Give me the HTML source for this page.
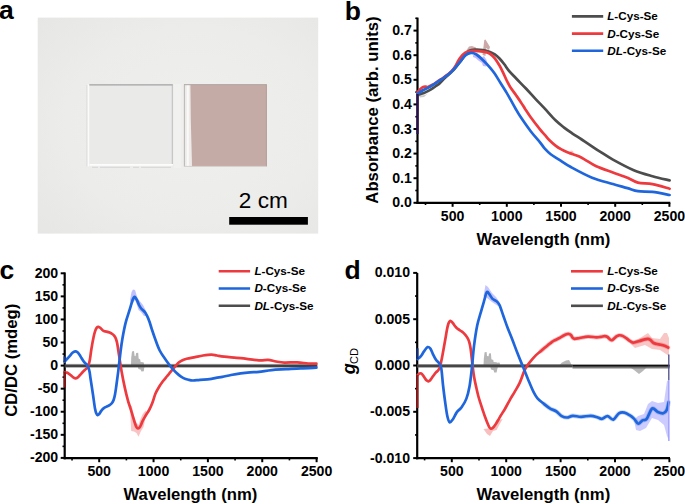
<!DOCTYPE html>
<html><head><meta charset="utf-8"><title>Figure</title>
<style>
html,body{margin:0;padding:0;background:#fff;}
body{width:685px;height:504px;overflow:hidden;}
svg{display:block;font-family:"Liberation Sans",sans-serif;}
.lbl{font-size:26.5px;font-weight:bold;}
.tk{font-size:15.1px;font-weight:bold;}
.ttl{font-size:16.7px;font-weight:bold;}
.lg{font-size:11.7px;font-weight:bold;}
</style></head>
<body>
<svg width="685" height="504" viewBox="0 0 685 504">
<rect width="685" height="504" fill="#fff"/>
<text x="-1" y="19.3" class="lbl">a</text>
<defs><radialGradient id="pg" cx="0.55" cy="0.5" r="0.75"><stop offset="0" stop-color="#efefee"/><stop offset="0.6" stop-color="#ececeb"/><stop offset="1" stop-color="#e6e6e5"/></radialGradient></defs>
<rect x="37.7" y="17.6" width="280.5" height="216" fill="url(#pg)"/>
<rect x="89.2" y="85.2" width="83.2" height="79.8" fill="#eaeae9"/>
<line x1="89.2" y1="84.9" x2="172.8" y2="84.9" stroke="#a2a2a2" stroke-width="1.1"/>
<line x1="88.3" y1="84.5" x2="88.3" y2="166.5" stroke="#fbfbfb" stroke-width="1.8"/>
<line x1="86.9" y1="85" x2="86.9" y2="166.5" stroke="#d8d8d8" stroke-width="0.8"/>
<line x1="172.3" y1="85" x2="172.3" y2="165.5" stroke="#b8b8b8" stroke-width="0.9"/>
<rect x="174" y="84" width="7" height="84" fill="#f1f1f0"/>
<line x1="89.5" y1="164.9" x2="173" y2="164.9" stroke="#fcfcfc" stroke-width="1.6"/>
<line x1="92" y1="167.3" x2="173" y2="167.3" stroke="#d2d2d0" stroke-width="0.9" stroke-dasharray="6,2,30,3"/>
<rect x="183.8" y="84.3" width="83" height="82.4" fill="#edebea"/>
<line x1="187.8" y1="85" x2="187.8" y2="166" stroke="#f9f9f8" stroke-width="2"/>
<path d="M190.4,84.6 L266.6,84.6 L266.6,166.2 L192,166.2 L191.6,150 L190.8,120 Z" fill="#c5aba6"/>
<line x1="184" y1="84.7" x2="266.6" y2="84.7" stroke="#aea3a1" stroke-width="1"/>
<line x1="184.4" y1="84.5" x2="184.4" y2="166.5" stroke="#b4b0af" stroke-width="0.9"/>
<line x1="266.4" y1="84.5" x2="266.4" y2="166.5" stroke="#b09a96" stroke-width="0.9"/>
<line x1="184" y1="166.4" x2="266.6" y2="166.4" stroke="#d6cfcd" stroke-width="1"/>
<rect x="229.2" y="217" width="78.7" height="7.7" fill="#000"/>
<text x="238.8" y="208" font-size="22.6" fill="#000">2 cm</text>
<text x="344.8" y="19.7" class="lbl">b</text>
<line x1="417.50" y1="17.60" x2="417.50" y2="203.90" stroke="#000" stroke-width="2.2"/>
<line x1="416.40" y1="202.80" x2="670.30" y2="202.80" stroke="#000" stroke-width="2.2"/>
<line x1="413.50" y1="202.80" x2="417.50" y2="202.80" stroke="#000" stroke-width="2"/>
<line x1="413.50" y1="178.20" x2="417.50" y2="178.20" stroke="#000" stroke-width="2"/>
<line x1="413.50" y1="153.60" x2="417.50" y2="153.60" stroke="#000" stroke-width="2"/>
<line x1="413.50" y1="129.00" x2="417.50" y2="129.00" stroke="#000" stroke-width="2"/>
<line x1="413.50" y1="104.40" x2="417.50" y2="104.40" stroke="#000" stroke-width="2"/>
<line x1="413.50" y1="79.80" x2="417.50" y2="79.80" stroke="#000" stroke-width="2"/>
<line x1="413.50" y1="55.20" x2="417.50" y2="55.20" stroke="#000" stroke-width="2"/>
<line x1="413.50" y1="30.60" x2="417.50" y2="30.60" stroke="#000" stroke-width="2"/>
<line x1="415.30" y1="190.50" x2="417.50" y2="190.50" stroke="#000" stroke-width="1.6"/>
<line x1="415.30" y1="165.90" x2="417.50" y2="165.90" stroke="#000" stroke-width="1.6"/>
<line x1="415.30" y1="141.30" x2="417.50" y2="141.30" stroke="#000" stroke-width="1.6"/>
<line x1="415.30" y1="116.70" x2="417.50" y2="116.70" stroke="#000" stroke-width="1.6"/>
<line x1="415.30" y1="92.10" x2="417.50" y2="92.10" stroke="#000" stroke-width="1.6"/>
<line x1="415.30" y1="67.50" x2="417.50" y2="67.50" stroke="#000" stroke-width="1.6"/>
<line x1="415.30" y1="42.90" x2="417.50" y2="42.90" stroke="#000" stroke-width="1.6"/>
<line x1="415.30" y1="18.30" x2="417.50" y2="18.30" stroke="#000" stroke-width="1.6"/>
<line x1="452.60" y1="202.80" x2="452.60" y2="206.80" stroke="#000" stroke-width="2"/>
<line x1="506.80" y1="202.80" x2="506.80" y2="206.80" stroke="#000" stroke-width="2"/>
<line x1="561.00" y1="202.80" x2="561.00" y2="206.80" stroke="#000" stroke-width="2"/>
<line x1="615.20" y1="202.80" x2="615.20" y2="206.80" stroke="#000" stroke-width="2"/>
<line x1="669.40" y1="202.80" x2="669.40" y2="206.80" stroke="#000" stroke-width="2"/>
<line x1="425.50" y1="202.80" x2="425.50" y2="205.00" stroke="#000" stroke-width="1.6"/>
<line x1="479.70" y1="202.80" x2="479.70" y2="205.00" stroke="#000" stroke-width="1.6"/>
<line x1="533.90" y1="202.80" x2="533.90" y2="205.00" stroke="#000" stroke-width="1.6"/>
<line x1="588.10" y1="202.80" x2="588.10" y2="205.00" stroke="#000" stroke-width="1.6"/>
<line x1="642.30" y1="202.80" x2="642.30" y2="205.00" stroke="#000" stroke-width="1.6"/>
<text transform="translate(411.80,207.30) scale(0.935,1)" class="tk" text-anchor="end">0.0</text>
<text transform="translate(411.80,182.70) scale(0.935,1)" class="tk" text-anchor="end">0.1</text>
<text transform="translate(411.80,158.10) scale(0.935,1)" class="tk" text-anchor="end">0.2</text>
<text transform="translate(411.80,133.50) scale(0.935,1)" class="tk" text-anchor="end">0.3</text>
<text transform="translate(411.80,108.90) scale(0.935,1)" class="tk" text-anchor="end">0.4</text>
<text transform="translate(411.80,84.30) scale(0.935,1)" class="tk" text-anchor="end">0.5</text>
<text transform="translate(411.80,59.70) scale(0.935,1)" class="tk" text-anchor="end">0.6</text>
<text transform="translate(411.80,35.10) scale(0.935,1)" class="tk" text-anchor="end">0.7</text>
<text transform="translate(452.60,220.50) scale(0.935,1)" class="tk" text-anchor="middle">500</text>
<text transform="translate(506.80,220.50) scale(0.935,1)" class="tk" text-anchor="middle">1000</text>
<text transform="translate(561.00,220.50) scale(0.935,1)" class="tk" text-anchor="middle">1500</text>
<text transform="translate(615.20,220.50) scale(0.935,1)" class="tk" text-anchor="middle">2000</text>
<text transform="translate(669.40,220.50) scale(0.935,1)" class="tk" text-anchor="middle">2500</text>
<text x="543.5" y="244.6" class="ttl" text-anchor="middle">Wavelength (nm)</text>
<text transform="translate(378.2,110) rotate(-90)" class="ttl" text-anchor="middle">Absorbance (arb. units)</text>
<path d="M466.00,51.00 L469.00,46.50 L472.00,46.00 L476.00,47.50 L476.00,50.00 L470.00,51.00 Z" fill="#a86a6a" fill-opacity="0.55" stroke="none"/>
<path d="M482.50,55.00 L484.30,40.00 L485.50,39.50 L490.00,47.00 L489.00,50.00 L486.00,48.00 L485.50,56.00 Z" fill="#a87070" fill-opacity="0.6" stroke="none"/>
<path d="M473.00,55.00 L477.00,55.50 L481.00,58.00 L484.00,56.00 L486.50,60.00 L487.50,64.00 L486.00,66.50 L483.00,66.00 L482.00,63.00 L479.00,61.00 L475.50,58.00 L473.00,57.00 Z" fill="#9a8cff" fill-opacity="0.6" stroke="none"/>
<path d="M418.00,94.50 L421.00,95.50 L425.00,95.00 L428.00,93.50 L424.00,97.00 L420.00,97.50 Z" fill="#9a9a9a" fill-opacity="0.5" stroke="none"/>
<ellipse cx="571.5" cy="152.2" rx="2" ry="1.6" fill="#f07070" fill-opacity="0.4"/>
<path d="M417.40,94.80 C417.83,94.70 418.90,94.52 420.00,94.20 C421.10,93.88 422.68,93.42 424.00,92.90 C425.32,92.38 426.40,91.88 427.90,91.10 C429.40,90.32 431.65,89.05 433.00,88.20 C434.35,87.35 434.87,86.82 436.00,86.00 C437.13,85.18 438.55,84.40 439.80,83.30 C441.05,82.20 442.15,80.73 443.50,79.40 C444.85,78.07 446.57,76.53 447.90,75.30 C449.23,74.07 450.32,73.15 451.50,72.00 C452.68,70.85 453.62,70.02 455.00,68.40 C456.38,66.78 458.08,64.57 459.80,62.30 C461.52,60.03 463.72,56.72 465.30,54.80 C466.88,52.88 467.72,51.65 469.30,50.80 C470.88,49.95 472.55,49.82 474.80,49.70 C477.05,49.58 480.27,49.73 482.80,50.10 C485.33,50.47 488.00,51.18 490.00,51.90 C492.00,52.62 493.22,53.30 494.80,54.40 C496.38,55.50 497.92,56.85 499.50,58.50 C501.08,60.15 502.72,62.25 504.30,64.30 C505.88,66.35 507.02,68.43 509.00,70.80 C510.98,73.17 513.42,75.58 516.20,78.50 C518.98,81.42 522.53,84.95 525.70,88.30 C528.87,91.65 532.02,95.20 535.20,98.60 C538.38,102.00 541.42,105.08 544.80,108.70 C548.18,112.32 552.33,117.18 555.50,120.30 C558.67,123.42 561.03,125.23 563.80,127.40 C566.57,129.57 569.12,131.28 572.10,133.30 C575.08,135.32 578.52,137.42 581.70,139.50 C584.88,141.58 588.15,143.78 591.20,145.80 C594.25,147.82 596.38,149.30 600.00,151.60 C603.62,153.90 607.27,156.50 612.90,159.60 C618.52,162.70 627.15,167.42 633.75,170.20 C640.35,172.97 646.52,174.55 652.50,176.25 C658.48,177.95 666.75,179.71 669.60,180.40" fill="none" stroke="#4d4d4d" stroke-width="2.7" stroke-linejoin="round" stroke-linecap="round" />
<path d="M417.40,92.30 C417.75,91.92 418.82,90.72 419.50,90.00 C420.18,89.28 420.77,88.55 421.50,88.00 C422.23,87.45 423.15,86.93 423.90,86.70 C424.65,86.47 425.33,86.55 426.00,86.60 C426.67,86.65 426.73,87.35 427.90,87.00 C429.07,86.65 431.65,85.25 433.00,84.50 C434.35,83.75 434.87,83.25 436.00,82.50 C437.13,81.75 438.55,80.82 439.80,80.00 C441.05,79.18 442.15,78.53 443.50,77.60 C444.85,76.67 446.57,75.47 447.90,74.40 C449.23,73.33 450.32,72.47 451.50,71.20 C452.68,69.93 453.62,68.97 455.00,66.80 C456.38,64.63 458.08,60.57 459.80,58.20 C461.52,55.83 463.45,53.80 465.30,52.60 C467.15,51.40 468.65,51.23 470.90,51.00 C473.15,50.77 476.17,50.97 478.80,51.20 C481.43,51.43 484.83,51.95 486.70,52.40 C488.57,52.85 488.65,52.92 490.00,53.90 C491.35,54.88 493.22,56.37 494.80,58.30 C496.38,60.23 498.12,63.12 499.50,65.50 C500.88,67.88 501.90,70.10 503.10,72.60 C504.30,75.10 505.52,78.12 506.70,80.50 C507.88,82.88 508.62,84.42 510.20,86.90 C511.78,89.38 514.40,92.82 516.20,95.40 C518.00,97.98 519.52,100.15 521.00,102.40 C522.48,104.65 523.48,106.42 525.10,108.90 C526.72,111.38 528.22,113.88 530.70,117.30 C533.18,120.72 537.65,126.48 540.00,129.40 C542.35,132.32 543.22,132.98 544.80,134.80 C546.38,136.62 547.72,138.50 549.50,140.30 C551.28,142.10 553.52,144.08 555.50,145.60 C557.48,147.12 559.42,148.28 561.40,149.40 C563.38,150.52 565.62,151.53 567.40,152.30 C569.18,153.07 570.12,153.28 572.10,154.00 C574.08,154.72 577.12,155.63 579.30,156.60 C581.48,157.57 582.38,158.18 585.20,159.80 C588.03,161.42 591.63,164.18 596.25,166.30 C600.87,168.42 607.69,170.60 612.90,172.50 C618.11,174.40 623.33,176.02 627.50,177.70 C631.67,179.38 633.73,181.52 637.90,182.60 C642.07,183.68 647.22,183.17 652.50,184.20 C657.78,185.22 666.75,187.99 669.60,188.75" fill="none" stroke="#ec3a3f" stroke-width="2.7" stroke-linejoin="round" stroke-linecap="round" />
<path d="M417.40,94.00 C417.57,93.87 417.48,93.83 418.40,93.20 C419.32,92.57 421.32,91.08 422.90,90.20 C424.48,89.32 426.22,88.78 427.90,87.90 C429.58,87.02 431.65,85.73 433.00,84.90 C434.35,84.07 434.87,83.65 436.00,82.90 C437.13,82.15 438.55,81.22 439.80,80.40 C441.05,79.58 442.15,78.93 443.50,78.00 C444.85,77.07 446.57,75.87 447.90,74.80 C449.23,73.73 450.32,72.77 451.50,71.60 C452.68,70.43 453.62,69.37 455.00,67.80 C456.38,66.23 458.08,64.27 459.80,62.20 C461.52,60.13 463.45,56.95 465.30,55.40 C467.15,53.85 469.05,53.05 470.90,52.90 C472.75,52.75 474.42,53.32 476.40,54.50 C478.38,55.68 480.53,57.82 482.80,60.00 C485.07,62.18 488.00,65.30 490.00,67.60 C492.00,69.90 493.02,71.18 494.80,73.80 C496.58,76.42 498.72,80.12 500.70,83.30 C502.68,86.48 504.92,89.92 506.70,92.90 C508.48,95.88 509.92,98.57 511.40,101.20 C512.88,103.83 514.17,106.23 515.60,108.70 C517.03,111.17 517.48,112.25 520.00,116.00 C522.52,119.75 527.37,126.82 530.70,131.20 C534.03,135.58 537.65,139.40 540.00,142.30 C542.35,145.20 543.02,146.62 544.80,148.60 C546.58,150.58 548.33,152.37 550.70,154.20 C553.07,156.03 555.58,157.42 559.00,159.60 C562.42,161.78 565.73,164.28 571.25,167.30 C576.77,170.32 585.16,174.92 592.10,177.70 C599.04,180.48 607.00,182.27 612.90,184.00 C618.80,185.73 623.33,186.90 627.50,188.10 C631.67,189.30 633.73,190.57 637.90,191.20 C642.07,191.83 647.22,191.27 652.50,191.90 C657.78,192.53 666.75,194.48 669.60,195.00" fill="none" stroke="#1f66dc" stroke-width="2.7" stroke-linejoin="round" stroke-linecap="round" />
<line x1="417.5" y1="94" x2="417.5" y2="134" stroke="#2a1050" stroke-width="2.2"/>
<line x1="571.90" y1="16.40" x2="603.20" y2="16.40" stroke="#4d4d4d" stroke-width="2.6"/>
<text x="607.20" y="20.30" class="lg"><tspan font-style="italic">L</tspan>-Cys-Se</text>
<line x1="571.90" y1="33.60" x2="603.20" y2="33.60" stroke="#ec3a3f" stroke-width="2.6"/>
<text x="607.20" y="37.50" class="lg"><tspan font-style="italic">D</tspan>-Cys-Se</text>
<line x1="571.90" y1="50.80" x2="603.20" y2="50.80" stroke="#1f66dc" stroke-width="2.6"/>
<text x="607.20" y="54.70" class="lg"><tspan font-style="italic">DL</tspan>-Cys-Se</text>
<text x="-0.5" y="279" class="lbl">c</text>
<line x1="64.70" y1="272.40" x2="64.70" y2="459.30" stroke="#000" stroke-width="2.2"/>
<line x1="63.60" y1="458.20" x2="317.80" y2="458.20" stroke="#000" stroke-width="2.2"/>
<line x1="60.70" y1="457.90" x2="64.70" y2="457.90" stroke="#000" stroke-width="2"/>
<line x1="60.70" y1="434.83" x2="64.70" y2="434.83" stroke="#000" stroke-width="2"/>
<line x1="60.70" y1="411.75" x2="64.70" y2="411.75" stroke="#000" stroke-width="2"/>
<line x1="60.70" y1="388.68" x2="64.70" y2="388.68" stroke="#000" stroke-width="2"/>
<line x1="60.70" y1="365.60" x2="64.70" y2="365.60" stroke="#000" stroke-width="2"/>
<line x1="60.70" y1="342.53" x2="64.70" y2="342.53" stroke="#000" stroke-width="2"/>
<line x1="60.70" y1="319.45" x2="64.70" y2="319.45" stroke="#000" stroke-width="2"/>
<line x1="60.70" y1="296.38" x2="64.70" y2="296.38" stroke="#000" stroke-width="2"/>
<line x1="60.70" y1="273.30" x2="64.70" y2="273.30" stroke="#000" stroke-width="2"/>
<line x1="62.50" y1="446.36" x2="64.70" y2="446.36" stroke="#000" stroke-width="1.6"/>
<line x1="62.50" y1="423.29" x2="64.70" y2="423.29" stroke="#000" stroke-width="1.6"/>
<line x1="62.50" y1="400.21" x2="64.70" y2="400.21" stroke="#000" stroke-width="1.6"/>
<line x1="62.50" y1="377.14" x2="64.70" y2="377.14" stroke="#000" stroke-width="1.6"/>
<line x1="62.50" y1="354.06" x2="64.70" y2="354.06" stroke="#000" stroke-width="1.6"/>
<line x1="62.50" y1="330.99" x2="64.70" y2="330.99" stroke="#000" stroke-width="1.6"/>
<line x1="62.50" y1="307.91" x2="64.70" y2="307.91" stroke="#000" stroke-width="1.6"/>
<line x1="62.50" y1="284.84" x2="64.70" y2="284.84" stroke="#000" stroke-width="1.6"/>
<line x1="99.20" y1="458.20" x2="99.20" y2="462.20" stroke="#000" stroke-width="2"/>
<line x1="153.55" y1="458.20" x2="153.55" y2="462.20" stroke="#000" stroke-width="2"/>
<line x1="207.90" y1="458.20" x2="207.90" y2="462.20" stroke="#000" stroke-width="2"/>
<line x1="262.25" y1="458.20" x2="262.25" y2="462.20" stroke="#000" stroke-width="2"/>
<line x1="316.60" y1="458.20" x2="316.60" y2="462.20" stroke="#000" stroke-width="2"/>
<line x1="72.03" y1="458.20" x2="72.03" y2="460.40" stroke="#000" stroke-width="1.6"/>
<line x1="126.38" y1="458.20" x2="126.38" y2="460.40" stroke="#000" stroke-width="1.6"/>
<line x1="180.73" y1="458.20" x2="180.73" y2="460.40" stroke="#000" stroke-width="1.6"/>
<line x1="235.07" y1="458.20" x2="235.07" y2="460.40" stroke="#000" stroke-width="1.6"/>
<line x1="289.43" y1="458.20" x2="289.43" y2="460.40" stroke="#000" stroke-width="1.6"/>
<text transform="translate(58.20,462.40) scale(0.935,1)" class="tk" text-anchor="end">-200</text>
<text transform="translate(58.20,439.33) scale(0.935,1)" class="tk" text-anchor="end">-150</text>
<text transform="translate(58.20,416.25) scale(0.935,1)" class="tk" text-anchor="end">-100</text>
<text transform="translate(58.20,393.18) scale(0.935,1)" class="tk" text-anchor="end">-50</text>
<text transform="translate(58.20,370.10) scale(0.935,1)" class="tk" text-anchor="end">0</text>
<text transform="translate(58.20,347.03) scale(0.935,1)" class="tk" text-anchor="end">50</text>
<text transform="translate(58.20,323.95) scale(0.935,1)" class="tk" text-anchor="end">100</text>
<text transform="translate(58.20,300.88) scale(0.935,1)" class="tk" text-anchor="end">150</text>
<text transform="translate(58.20,277.80) scale(0.935,1)" class="tk" text-anchor="end">200</text>
<text transform="translate(99.20,476.20) scale(0.935,1)" class="tk" text-anchor="middle">500</text>
<text transform="translate(153.55,476.20) scale(0.935,1)" class="tk" text-anchor="middle">1000</text>
<text transform="translate(207.90,476.20) scale(0.935,1)" class="tk" text-anchor="middle">1500</text>
<text transform="translate(262.25,476.20) scale(0.935,1)" class="tk" text-anchor="middle">2000</text>
<text transform="translate(316.60,476.20) scale(0.935,1)" class="tk" text-anchor="middle">2500</text>
<text x="190.4" y="500.2" class="ttl" text-anchor="middle">Wavelength (nm)</text>
<text transform="translate(16.6,360.3) rotate(-90)" class="ttl" text-anchor="middle">CD/DC (mdeg)</text>
<path d="M131.00,365.00 L131.20,358.00 L132.00,351.50 L134.00,351.00 L134.60,356.00 L135.50,356.30 L136.20,353.00 L138.20,352.80 L138.60,358.50 L140.20,359.50 L140.60,362.00 L143.50,362.30 L144.00,363.50 L144.00,365.00 Z" fill="#a8a8a8" fill-opacity="0.85" stroke="none"/>
<path d="M137.60,366.00 L138.40,369.00 L140.50,369.50 L141.50,371.40 L143.80,371.20 L144.20,368.00 L145.00,366.00 Z" fill="#a8a8a8" fill-opacity="0.85" stroke="none"/>
<path d="M130.30,405.00 L131.80,406.00 L133.50,414.00 L136.00,422.00 L138.50,425.00 L140.50,419.00 L142.50,414.50 L145.50,410.50 L146.50,412.00 L145.00,420.00 L143.50,427.00 L141.00,431.00 L138.50,436.80 L136.50,433.00 L134.00,431.50 L131.20,431.00 L130.60,420.00 Z" fill="#f07070" fill-opacity="0.42" stroke="none"/>
<path d="M130.00,300.00 L131.50,292.00 L133.00,289.50 L135.00,290.00 L136.50,295.00 L138.00,299.00 L140.50,302.00 L143.00,305.00 L146.00,311.00 L147.00,316.00 L144.00,316.00 L141.00,312.00 L138.50,310.00 L137.00,305.00 L135.00,300.00 L133.00,303.00 L131.50,306.00 Z" fill="#8c8cff" fill-opacity="0.55" stroke="none"/>
<line x1="64.7" y1="365.8" x2="317.3" y2="365.8" stroke="#888" stroke-width="4" stroke-opacity="0.35"/>
<line x1="64.7" y1="365.8" x2="317.3" y2="365.8" stroke="#404040" stroke-width="2.8"/>
<path d="M64.60,372.20 C64.92,372.27 65.88,372.42 66.50,372.60 C67.12,372.78 67.63,372.90 68.30,373.30 C68.97,373.70 69.75,374.38 70.50,375.00 C71.25,375.62 72.00,376.45 72.80,377.00 C73.60,377.55 74.52,378.20 75.30,378.30 C76.08,378.40 76.72,378.15 77.50,377.60 C78.28,377.05 79.17,375.90 80.00,375.00 C80.83,374.10 81.63,373.10 82.50,372.20 C83.37,371.30 84.38,370.40 85.20,369.60 C86.02,368.80 86.80,368.30 87.40,367.40 C88.00,366.50 88.38,365.50 88.80,364.20 C89.22,362.90 89.47,362.13 89.90,359.60 C90.33,357.07 90.78,352.77 91.40,349.00 C92.02,345.23 92.95,340.07 93.60,337.00 C94.25,333.93 94.73,332.20 95.30,330.60 C95.87,329.00 96.47,328.03 97.00,327.40 C97.53,326.77 97.97,326.73 98.50,326.80 C99.03,326.87 99.58,327.30 100.20,327.80 C100.82,328.30 101.60,329.27 102.20,329.80 C102.80,330.33 103.08,330.70 103.80,331.00 C104.52,331.30 105.53,331.33 106.50,331.60 C107.47,331.87 108.63,332.20 109.60,332.60 C110.57,333.00 111.52,333.45 112.30,334.00 C113.08,334.55 113.70,335.10 114.30,335.90 C114.90,336.70 115.40,337.45 115.90,338.80 C116.40,340.15 116.77,341.20 117.30,344.00 C117.83,346.80 118.38,351.03 119.10,355.60 C119.82,360.17 120.65,366.07 121.60,371.40 C122.55,376.73 123.75,382.78 124.80,387.60 C125.85,392.42 126.98,396.92 127.90,400.30 C128.82,403.68 129.50,405.30 130.30,407.90 C131.10,410.50 131.90,413.25 132.70,415.90 C133.50,418.55 134.45,421.88 135.10,423.80 C135.75,425.72 136.13,426.63 136.60,427.40 C137.07,428.17 137.43,428.37 137.90,428.40 C138.37,428.43 138.88,428.17 139.40,427.60 C139.92,427.03 140.47,426.10 141.00,425.00 C141.53,423.90 141.87,422.50 142.60,421.00 C143.33,419.50 144.27,417.92 145.40,416.00 C146.53,414.08 148.22,411.75 149.40,409.50 C150.58,407.25 151.48,405.17 152.50,402.50 C153.52,399.83 154.42,396.08 155.50,393.50 C156.58,390.92 157.77,389.03 159.00,387.00 C160.23,384.97 161.60,383.05 162.90,381.30 C164.20,379.55 165.48,378.10 166.80,376.50 C168.12,374.90 169.47,373.32 170.80,371.70 C172.13,370.08 173.48,368.32 174.80,366.80 C176.12,365.28 177.42,363.70 178.70,362.60 C179.98,361.50 181.17,360.83 182.50,360.20 C183.83,359.57 184.62,359.32 186.70,358.80 C188.78,358.28 192.28,357.65 195.00,357.10 C197.72,356.55 200.27,355.92 203.00,355.50 C205.73,355.08 209.07,354.60 211.40,354.60 C213.73,354.60 214.87,355.17 217.00,355.50 C219.13,355.83 220.27,356.15 224.20,356.60 C228.13,357.05 234.82,357.57 240.60,358.20 C246.38,358.83 254.33,360.13 258.90,360.40 C263.47,360.67 265.15,359.62 268.00,359.80 C270.85,359.98 273.27,361.03 276.00,361.50 C278.73,361.97 280.87,362.47 284.40,362.60 C287.93,362.73 293.25,362.15 297.20,362.30 C301.15,362.45 304.90,363.27 308.10,363.50 C311.30,363.73 315.02,363.67 316.40,363.70" fill="none" stroke="#ec3a3f" stroke-width="2.7" stroke-linejoin="round" stroke-linecap="round" />
<path d="M64.60,361.50 C65.00,361.08 66.12,359.95 67.00,359.00 C67.88,358.05 68.98,356.83 69.90,355.80 C70.82,354.77 71.60,353.55 72.50,352.80 C73.40,352.05 74.47,351.40 75.30,351.30 C76.13,351.20 76.80,351.62 77.50,352.20 C78.20,352.78 78.83,353.83 79.50,354.80 C80.17,355.77 80.85,356.97 81.50,358.00 C82.15,359.03 82.78,360.13 83.40,361.00 C84.02,361.87 84.62,362.57 85.20,363.20 C85.78,363.83 86.37,364.08 86.90,364.80 C87.43,365.52 87.95,366.30 88.40,367.50 C88.85,368.70 89.23,370.08 89.60,372.00 C89.97,373.92 90.03,375.22 90.60,379.00 C91.17,382.78 92.27,389.78 93.00,394.70 C93.73,399.62 94.43,405.35 95.00,408.50 C95.57,411.65 95.95,412.48 96.40,413.60 C96.85,414.72 97.25,415.10 97.70,415.20 C98.15,415.30 98.57,414.83 99.10,414.20 C99.63,413.57 100.28,412.27 100.90,411.40 C101.52,410.53 102.13,409.68 102.80,409.00 C103.47,408.32 104.15,407.75 104.90,407.30 C105.65,406.85 106.52,406.65 107.30,406.30 C108.08,405.95 108.85,405.70 109.60,405.20 C110.35,404.70 111.13,404.17 111.80,403.30 C112.47,402.43 113.07,401.47 113.60,400.00 C114.13,398.53 114.57,396.72 115.00,394.50 C115.43,392.28 115.65,390.63 116.20,386.70 C116.75,382.77 117.58,376.68 118.30,370.90 C119.02,365.12 119.82,357.37 120.50,352.00 C121.18,346.63 121.55,343.55 122.40,338.70 C123.25,333.85 124.42,327.65 125.60,322.90 C126.78,318.15 128.45,313.65 129.50,310.20 C130.55,306.75 131.27,304.17 131.90,302.20 C132.53,300.23 132.88,299.28 133.30,298.40 C133.72,297.52 134.02,297.00 134.40,296.90 C134.78,296.80 135.17,297.25 135.60,297.80 C136.03,298.35 136.43,299.00 137.00,300.20 C137.57,301.40 138.33,303.67 139.00,305.00 C139.67,306.33 140.33,307.33 141.00,308.20 C141.67,309.07 142.30,309.47 143.00,310.20 C143.70,310.93 144.50,311.60 145.20,312.60 C145.90,313.60 146.50,314.72 147.20,316.20 C147.90,317.68 148.65,319.40 149.40,321.50 C150.15,323.60 150.77,325.97 151.70,328.80 C152.63,331.63 153.67,334.88 155.00,338.50 C156.33,342.12 157.87,346.88 159.70,350.50 C161.53,354.12 163.88,357.18 166.00,360.20 C168.12,363.22 170.28,366.15 172.40,368.60 C174.52,371.05 176.85,373.32 178.70,374.90 C180.55,376.48 181.87,377.28 183.50,378.10 C185.13,378.92 186.92,379.40 188.50,379.80 C190.08,380.20 191.08,380.50 193.00,380.50 C194.92,380.50 197.23,380.02 200.00,379.80 C202.77,379.58 206.93,379.53 209.60,379.20 C212.27,378.87 213.87,378.20 216.00,377.80 C218.13,377.40 219.90,377.27 222.40,376.80 C224.90,376.33 227.97,375.57 231.00,375.00 C234.03,374.43 237.43,373.83 240.60,373.40 C243.77,372.97 246.95,372.65 250.00,372.40 C253.05,372.15 255.30,372.28 258.90,371.90 C262.50,371.52 267.05,370.55 271.60,370.10 C276.15,369.65 281.33,369.50 286.20,369.20 C291.07,368.90 295.77,368.55 300.80,368.30 C305.83,368.05 313.80,367.80 316.40,367.70" fill="none" stroke="#1f66dc" stroke-width="2.7" stroke-linejoin="round" stroke-linecap="round" />
<line x1="64.7" y1="371.5" x2="64.7" y2="387.5" stroke="#861515" stroke-width="2.2"/>
<line x1="64.7" y1="356.5" x2="64.7" y2="362" stroke="#1a3a8a" stroke-width="2.2"/>
<line x1="218.70" y1="271.30" x2="250.10" y2="271.30" stroke="#ec3a3f" stroke-width="2.6"/>
<text x="254.40" y="275.20" class="lg"><tspan font-style="italic">L</tspan>-Cys-Se</text>
<line x1="218.70" y1="288.50" x2="250.10" y2="288.50" stroke="#1f66dc" stroke-width="2.6"/>
<text x="254.40" y="292.40" class="lg"><tspan font-style="italic">D</tspan>-Cys-Se</text>
<line x1="218.70" y1="305.80" x2="250.10" y2="305.80" stroke="#4d4d4d" stroke-width="2.6"/>
<text x="254.40" y="309.70" class="lg"><tspan font-style="italic">DL</tspan>-Cys-Se</text>
<text x="344.4" y="278.8" class="lbl">d</text>
<line x1="417.20" y1="272.90" x2="417.20" y2="459.30" stroke="#000" stroke-width="2.2"/>
<line x1="416.10" y1="458.20" x2="670.00" y2="458.20" stroke="#000" stroke-width="2.2"/>
<line x1="413.20" y1="458.10" x2="417.20" y2="458.10" stroke="#000" stroke-width="2"/>
<line x1="413.20" y1="411.80" x2="417.20" y2="411.80" stroke="#000" stroke-width="2"/>
<line x1="413.20" y1="365.50" x2="417.20" y2="365.50" stroke="#000" stroke-width="2"/>
<line x1="413.20" y1="319.20" x2="417.20" y2="319.20" stroke="#000" stroke-width="2"/>
<line x1="413.20" y1="272.90" x2="417.20" y2="272.90" stroke="#000" stroke-width="2"/>
<line x1="415.00" y1="434.95" x2="417.20" y2="434.95" stroke="#000" stroke-width="1.6"/>
<line x1="415.00" y1="388.65" x2="417.20" y2="388.65" stroke="#000" stroke-width="1.6"/>
<line x1="415.00" y1="342.35" x2="417.20" y2="342.35" stroke="#000" stroke-width="1.6"/>
<line x1="415.00" y1="296.05" x2="417.20" y2="296.05" stroke="#000" stroke-width="1.6"/>
<line x1="451.80" y1="458.20" x2="451.80" y2="462.20" stroke="#000" stroke-width="2"/>
<line x1="506.20" y1="458.20" x2="506.20" y2="462.20" stroke="#000" stroke-width="2"/>
<line x1="560.60" y1="458.20" x2="560.60" y2="462.20" stroke="#000" stroke-width="2"/>
<line x1="615.00" y1="458.20" x2="615.00" y2="462.20" stroke="#000" stroke-width="2"/>
<line x1="669.40" y1="458.20" x2="669.40" y2="462.20" stroke="#000" stroke-width="2"/>
<line x1="424.60" y1="458.20" x2="424.60" y2="460.40" stroke="#000" stroke-width="1.6"/>
<line x1="479.00" y1="458.20" x2="479.00" y2="460.40" stroke="#000" stroke-width="1.6"/>
<line x1="533.40" y1="458.20" x2="533.40" y2="460.40" stroke="#000" stroke-width="1.6"/>
<line x1="587.80" y1="458.20" x2="587.80" y2="460.40" stroke="#000" stroke-width="1.6"/>
<line x1="642.20" y1="458.20" x2="642.20" y2="460.40" stroke="#000" stroke-width="1.6"/>
<text transform="translate(410.00,462.60) scale(0.935,1)" class="tk" text-anchor="end">-0.010</text>
<text transform="translate(410.00,416.30) scale(0.935,1)" class="tk" text-anchor="end">-0.005</text>
<text transform="translate(410.00,370.00) scale(0.935,1)" class="tk" text-anchor="end">0.000</text>
<text transform="translate(410.00,323.70) scale(0.935,1)" class="tk" text-anchor="end">0.005</text>
<text transform="translate(410.00,277.40) scale(0.935,1)" class="tk" text-anchor="end">0.010</text>
<text transform="translate(451.80,476.20) scale(0.935,1)" class="tk" text-anchor="middle">500</text>
<text transform="translate(506.20,476.20) scale(0.935,1)" class="tk" text-anchor="middle">1000</text>
<text transform="translate(560.60,476.20) scale(0.935,1)" class="tk" text-anchor="middle">1500</text>
<text transform="translate(615.00,476.20) scale(0.935,1)" class="tk" text-anchor="middle">2000</text>
<text transform="translate(669.40,476.20) scale(0.935,1)" class="tk" text-anchor="middle">2500</text>
<text x="543.3" y="500.2" class="ttl" text-anchor="middle">Wavelength (nm)</text>
<text transform="translate(354.5,374.3) rotate(-90)" font-size="18" font-weight="bold" font-style="italic">g</text>
<text transform="translate(358.4,364) rotate(-90)" font-size="11">CD</text>
<path d="M483.50,365.50 L483.80,359.00 L484.60,352.30 L486.60,352.00 L487.00,356.00 L488.60,356.20 L489.00,353.40 L490.90,353.20 L491.40,359.20 L493.30,360.00 L493.60,362.00 L496.50,362.30 L497.20,362.70 L499.50,362.50 L500.00,364.00 L500.00,365.50 Z" fill="#a8a8a8" fill-opacity="0.85" stroke="none"/>
<path d="M490.20,366.50 L491.00,369.50 L493.60,370.20 L494.20,372.50 L496.60,372.40 L497.20,369.50 L498.00,366.50 Z" fill="#a8a8a8" fill-opacity="0.85" stroke="none"/>
<path d="M559.00,365.50 L562.00,362.50 L566.00,360.50 L569.00,360.00 L571.00,363.50 L571.00,365.50 Z" fill="#9a9a9a" fill-opacity="0.7" stroke="none"/>
<path d="M628.00,366.00 L634.00,370.00 L639.00,374.00 L643.00,371.00 L647.00,367.00 L647.00,366.00 Z" fill="#9a9a9a" fill-opacity="0.7" stroke="none"/>
<path d="M630.00,343.00 L640.00,338.00 L648.00,333.00 L652.00,338.00 L660.00,339.00 L664.00,333.00 L667.00,333.00 L669.00,338.00 L669.00,356.00 L666.00,354.00 L660.00,350.00 L652.00,349.00 L645.00,345.00 L635.00,348.00 Z" fill="#f07070" fill-opacity="0.4" stroke="none"/>
<path d="M483.50,429.00 L487.00,434.00 L490.00,436.00 L493.00,431.00 L496.50,430.00 L502.60,419.00 L498.00,420.00 L492.00,428.00 Z" fill="#f07070" fill-opacity="0.45" stroke="none"/>
<path d="M483.50,296.00 L485.50,285.00 L488.00,287.00 L492.00,293.00 L496.00,297.00 L499.40,302.00 L498.00,306.00 L492.00,302.00 L487.00,298.00 Z" fill="#8c8cff" fill-opacity="0.5" stroke="none"/>
<path d="M634.00,420.00 L638.00,416.00 L644.00,414.00 L648.00,404.00 L652.00,401.00 L658.00,403.00 L664.00,402.00 L667.00,381.00 L669.00,380.00 L669.30,441.00 L667.00,436.00 L664.00,425.00 L658.00,420.00 L652.00,418.00 L646.00,428.00 L640.00,431.00 L636.00,430.00 Z" fill="#8c8cff" fill-opacity="0.45" stroke="none"/>
<line x1="417.2" y1="365.9" x2="669.6" y2="365.9" stroke="#888" stroke-width="4" stroke-opacity="0.35"/>
<line x1="417.2" y1="365.9" x2="572.5" y2="365.9" stroke="#464646" stroke-width="2.9"/>
<line x1="572.5" y1="366.9" x2="669.6" y2="366.9" stroke="#6a6a6a" stroke-width="3.0" stroke-opacity="0.85"/>
<line x1="572.5" y1="365.6" x2="669.6" y2="365.6" stroke="#111" stroke-width="1.9"/>
<path d="M540.70,351.20 C541.42,350.58 543.68,348.60 545.00,347.50 C546.32,346.40 547.52,345.47 548.60,344.60 C549.68,343.73 550.60,342.97 551.50,342.30 C552.40,341.63 552.77,341.27 554.00,340.60 C555.23,339.93 557.48,339.03 558.90,338.30 C560.32,337.57 561.23,336.88 562.50,336.20 C563.77,335.52 565.42,334.57 566.50,334.20 C567.58,333.83 568.27,333.87 569.00,334.00 C569.73,334.13 570.32,334.42 570.90,335.00 C571.48,335.58 571.88,336.87 572.50,337.50 C573.12,338.13 573.40,338.72 574.60,338.80 C575.80,338.88 577.45,338.37 579.70,338.00 C581.95,337.63 585.32,336.72 588.10,336.60 C590.88,336.48 594.25,337.27 596.40,337.30 C598.55,337.33 599.62,336.98 601.00,336.80 C602.38,336.62 603.62,336.17 604.70,336.20 C605.78,336.23 606.62,336.45 607.50,337.00 C608.38,337.55 609.27,338.97 610.00,339.50 C610.73,340.03 611.23,340.35 611.90,340.20 C612.57,340.05 613.23,339.23 614.00,338.60 C614.77,337.97 615.68,336.95 616.50,336.40 C617.32,335.85 618.07,335.43 618.90,335.30 C619.73,335.17 620.35,335.18 621.50,335.60 C622.65,336.02 624.55,337.02 625.80,337.80 C627.05,338.58 627.83,339.52 629.00,340.30 C630.17,341.08 631.63,342.22 632.80,342.50 C633.97,342.78 634.85,342.25 636.00,342.00 C637.15,341.75 638.37,341.40 639.70,341.00 C641.03,340.60 642.62,339.97 644.00,339.60 C645.38,339.23 646.92,338.73 648.00,338.80 C649.08,338.87 649.57,339.30 650.50,340.00 C651.43,340.70 652.52,342.33 653.60,343.00 C654.68,343.67 655.83,343.72 657.00,344.00 C658.17,344.28 659.35,344.40 660.60,344.70 C661.85,345.00 663.23,345.33 664.50,345.80 C665.77,346.27 667.58,347.22 668.20,347.50" fill="none" stroke="#ec3a3f" stroke-width="4.4" stroke-linejoin="round" stroke-linecap="round" stroke-opacity="0.3"/>
<path d="M543.80,403.80 C544.87,404.60 548.15,407.36 550.20,408.60 C552.25,409.84 554.18,410.00 556.10,411.25 C558.02,412.50 559.85,415.06 561.70,416.10 C563.55,417.14 565.35,417.55 567.20,417.50 C569.05,417.45 570.48,415.92 572.80,415.80 C575.12,415.68 578.10,416.80 581.10,416.80 C584.10,416.80 588.02,415.68 590.80,415.80 C593.58,415.92 595.95,416.98 597.80,417.50 C599.65,418.02 600.28,419.13 601.90,418.90 C603.52,418.67 605.60,415.98 607.50,416.10 C609.40,416.22 611.40,420.07 613.30,419.60 C615.20,419.13 617.05,414.47 618.90,413.30 C620.75,412.13 622.55,412.25 624.40,412.60 C626.25,412.95 628.37,414.35 630.00,415.40 C631.63,416.45 632.82,417.51 634.20,418.90 C635.58,420.29 636.92,423.52 638.30,423.75 C639.68,423.98 641.10,421.11 642.50,420.30 C643.90,419.49 645.08,420.87 646.70,418.90 C648.32,416.93 650.35,409.65 652.20,408.50 C654.05,407.35 655.95,411.20 657.80,412.00 C659.65,412.80 661.80,413.65 663.30,413.30 C664.80,412.95 665.92,411.75 666.80,409.90 C667.68,408.05 668.30,403.48 668.60,402.20" fill="none" stroke="#1f66dc" stroke-width="4.4" stroke-linejoin="round" stroke-linecap="round" stroke-opacity="0.25"/>
<path d="M417.80,374.80 C418.08,374.60 418.95,373.83 419.50,373.60 C420.05,373.37 420.48,373.07 421.10,373.40 C421.72,373.73 422.53,374.75 423.20,375.60 C423.87,376.45 424.50,377.67 425.10,378.50 C425.70,379.33 426.27,380.13 426.80,380.60 C427.33,381.07 427.73,381.37 428.30,381.30 C428.87,381.23 429.53,380.87 430.20,380.20 C430.87,379.53 431.62,378.25 432.30,377.30 C432.98,376.35 433.65,375.35 434.30,374.50 C434.95,373.65 435.55,372.90 436.20,372.20 C436.85,371.50 437.60,371.03 438.20,370.30 C438.80,369.57 439.33,369.10 439.80,367.80 C440.27,366.50 440.53,364.73 441.00,362.50 C441.47,360.27 442.07,357.23 442.60,354.40 C443.13,351.57 443.68,348.40 444.20,345.50 C444.72,342.60 445.23,339.67 445.70,337.00 C446.17,334.33 446.57,331.67 447.00,329.50 C447.43,327.33 447.88,325.32 448.30,324.00 C448.72,322.68 449.10,322.10 449.50,321.60 C449.90,321.10 450.25,320.90 450.70,321.00 C451.15,321.10 451.70,321.67 452.20,322.20 C452.70,322.73 453.18,323.48 453.70,324.20 C454.22,324.92 454.77,325.82 455.30,326.50 C455.83,327.18 456.25,327.75 456.90,328.30 C457.55,328.85 458.42,329.28 459.20,329.80 C459.98,330.32 460.77,330.77 461.60,331.40 C462.43,332.03 463.40,332.80 464.20,333.60 C465.00,334.40 465.73,335.27 466.40,336.20 C467.07,337.13 467.67,338.02 468.20,339.20 C468.73,340.38 469.20,341.75 469.60,343.30 C470.00,344.85 470.30,346.55 470.60,348.50 C470.90,350.45 471.07,352.08 471.40,355.00 C471.73,357.92 472.13,362.25 472.60,366.00 C473.07,369.75 473.57,373.83 474.20,377.50 C474.83,381.17 475.72,384.92 476.40,388.00 C477.08,391.08 477.65,393.55 478.30,396.00 C478.95,398.45 479.57,400.37 480.30,402.70 C481.03,405.03 481.90,407.62 482.70,410.00 C483.50,412.38 484.30,414.80 485.10,417.00 C485.90,419.20 486.78,421.47 487.50,423.20 C488.22,424.93 488.83,426.50 489.40,427.40 C489.97,428.30 490.38,428.47 490.90,428.60 C491.42,428.73 491.92,428.63 492.50,428.20 C493.08,427.77 493.78,426.80 494.40,426.00 C495.02,425.20 495.43,424.63 496.20,423.40 C496.97,422.17 498.03,420.23 499.00,418.60 C499.97,416.97 501.02,415.20 502.00,413.60 C502.98,412.00 503.58,411.30 504.90,409.00 C506.22,406.70 508.25,402.70 509.90,399.80 C511.55,396.90 513.15,394.47 514.80,391.60 C516.45,388.73 518.22,386.07 519.80,382.60 C521.38,379.13 523.02,373.70 524.30,370.80 C525.58,367.90 526.37,366.90 527.50,365.20 C528.63,363.50 529.72,362.23 531.10,360.60 C532.48,358.97 534.20,356.97 535.80,355.40 C537.40,353.83 539.17,352.52 540.70,351.20 C542.23,349.88 543.68,348.60 545.00,347.50 C546.32,346.40 547.52,345.47 548.60,344.60 C549.68,343.73 550.60,342.97 551.50,342.30 C552.40,341.63 552.77,341.27 554.00,340.60 C555.23,339.93 557.48,339.03 558.90,338.30 C560.32,337.57 561.23,336.88 562.50,336.20 C563.77,335.52 565.42,334.57 566.50,334.20 C567.58,333.83 568.27,333.87 569.00,334.00 C569.73,334.13 570.32,334.42 570.90,335.00 C571.48,335.58 571.88,336.87 572.50,337.50 C573.12,338.13 573.40,338.72 574.60,338.80 C575.80,338.88 577.45,338.37 579.70,338.00 C581.95,337.63 585.32,336.72 588.10,336.60 C590.88,336.48 594.25,337.27 596.40,337.30 C598.55,337.33 599.62,336.98 601.00,336.80 C602.38,336.62 603.62,336.17 604.70,336.20 C605.78,336.23 606.62,336.45 607.50,337.00 C608.38,337.55 609.27,338.97 610.00,339.50 C610.73,340.03 611.23,340.35 611.90,340.20 C612.57,340.05 613.23,339.23 614.00,338.60 C614.77,337.97 615.68,336.95 616.50,336.40 C617.32,335.85 618.07,335.43 618.90,335.30 C619.73,335.17 620.35,335.18 621.50,335.60 C622.65,336.02 624.55,337.02 625.80,337.80 C627.05,338.58 627.83,339.52 629.00,340.30 C630.17,341.08 631.63,342.22 632.80,342.50 C633.97,342.78 634.85,342.25 636.00,342.00 C637.15,341.75 638.37,341.40 639.70,341.00 C641.03,340.60 642.62,339.97 644.00,339.60 C645.38,339.23 646.92,338.73 648.00,338.80 C649.08,338.87 649.57,339.30 650.50,340.00 C651.43,340.70 652.52,342.33 653.60,343.00 C654.68,343.67 655.83,343.72 657.00,344.00 C658.17,344.28 659.35,344.40 660.60,344.70 C661.85,345.00 663.23,345.33 664.50,345.80 C665.77,346.27 667.58,347.22 668.20,347.50" fill="none" stroke="#ec3a3f" stroke-width="2.7" stroke-linejoin="round" stroke-linecap="round" />
<path d="M417.70,359.00 C418.23,358.53 419.85,357.47 420.90,356.20 C421.95,354.93 422.88,352.92 424.00,351.40 C425.12,349.88 426.53,347.55 427.60,347.10 C428.67,346.65 429.53,347.58 430.40,348.70 C431.27,349.82 431.87,351.95 432.80,353.80 C433.73,355.65 434.95,358.22 436.00,359.80 C437.05,361.38 438.22,361.85 439.10,363.30 C439.98,364.75 440.65,364.88 441.30,368.50 C441.95,372.12 442.38,379.58 443.00,385.00 C443.62,390.42 444.28,395.83 445.00,401.00 C445.72,406.17 446.52,412.43 447.30,416.00 C448.08,419.57 448.77,421.87 449.70,422.40 C450.63,422.93 451.70,420.92 452.90,419.20 C454.10,417.48 455.45,414.08 456.90,412.10 C458.35,410.12 460.02,409.55 461.60,407.30 C463.18,405.05 465.07,402.17 466.40,398.60 C467.73,395.03 468.68,391.00 469.60,385.90 C470.52,380.80 471.17,374.62 471.90,368.00 C472.63,361.38 473.12,353.27 474.00,346.20 C474.88,339.13 476.02,331.42 477.20,325.60 C478.38,319.78 479.92,315.53 481.10,311.30 C482.28,307.07 483.37,303.38 484.30,300.20 C485.23,297.02 485.90,293.27 486.70,292.20 C487.50,291.13 488.17,292.73 489.10,293.80 C490.03,294.87 491.12,297.40 492.30,298.60 C493.48,299.80 495.02,299.95 496.20,301.00 C497.38,302.05 498.20,302.40 499.40,304.90 C500.60,307.40 502.08,312.32 503.40,316.00 C504.72,319.68 505.85,323.17 507.30,327.00 C508.75,330.83 510.37,334.53 512.10,339.00 C513.83,343.47 515.85,349.08 517.70,353.80 C519.55,358.52 521.48,363.07 523.20,367.30 C524.92,371.53 526.28,375.10 528.00,379.20 C529.72,383.30 531.92,388.72 533.50,391.90 C535.08,395.08 535.78,396.32 537.50,398.30 C539.22,400.28 541.68,402.08 543.80,403.80 C545.92,405.52 548.15,407.36 550.20,408.60 C552.25,409.84 554.18,410.00 556.10,411.25 C558.02,412.50 559.85,415.06 561.70,416.10 C563.55,417.14 565.35,417.55 567.20,417.50 C569.05,417.45 570.48,415.92 572.80,415.80 C575.12,415.68 578.10,416.80 581.10,416.80 C584.10,416.80 588.02,415.68 590.80,415.80 C593.58,415.92 595.95,416.98 597.80,417.50 C599.65,418.02 600.28,419.13 601.90,418.90 C603.52,418.67 605.60,415.98 607.50,416.10 C609.40,416.22 611.40,420.07 613.30,419.60 C615.20,419.13 617.05,414.47 618.90,413.30 C620.75,412.13 622.55,412.25 624.40,412.60 C626.25,412.95 628.37,414.35 630.00,415.40 C631.63,416.45 632.82,417.51 634.20,418.90 C635.58,420.29 636.92,423.52 638.30,423.75 C639.68,423.98 641.10,421.11 642.50,420.30 C643.90,419.49 645.08,420.87 646.70,418.90 C648.32,416.93 650.35,409.65 652.20,408.50 C654.05,407.35 655.95,411.20 657.80,412.00 C659.65,412.80 661.80,413.65 663.30,413.30 C664.80,412.95 665.92,411.75 666.80,409.90 C667.68,408.05 668.30,403.48 668.60,402.20" fill="none" stroke="#1f66dc" stroke-width="2.7" stroke-linejoin="round" stroke-linecap="round" />
<line x1="417.4" y1="375" x2="417.4" y2="408" stroke="#951b1b" stroke-width="2.2"/>
<line x1="417.4" y1="348.3" x2="417.4" y2="359" stroke="#14307a" stroke-width="2.2"/>
<line x1="668.8" y1="354.4" x2="668.8" y2="380" stroke="#4a4a8a" stroke-width="1.3"/><line x1="668.8" y1="380" x2="668.8" y2="441" stroke="#9a9aff" stroke-width="1.6" stroke-opacity="0.8"/>
<line x1="571.00" y1="271.30" x2="602.90" y2="271.30" stroke="#ec3a3f" stroke-width="2.6"/>
<text x="607.20" y="275.20" class="lg"><tspan font-style="italic">L</tspan>-Cys-Se</text>
<line x1="571.00" y1="288.50" x2="602.90" y2="288.50" stroke="#1f66dc" stroke-width="2.6"/>
<text x="607.20" y="292.40" class="lg"><tspan font-style="italic">D</tspan>-Cys-Se</text>
<line x1="571.00" y1="305.80" x2="602.90" y2="305.80" stroke="#4d4d4d" stroke-width="2.6"/>
<text x="607.20" y="309.70" class="lg"><tspan font-style="italic">DL</tspan>-Cys-Se</text>
</svg>
</body></html>
